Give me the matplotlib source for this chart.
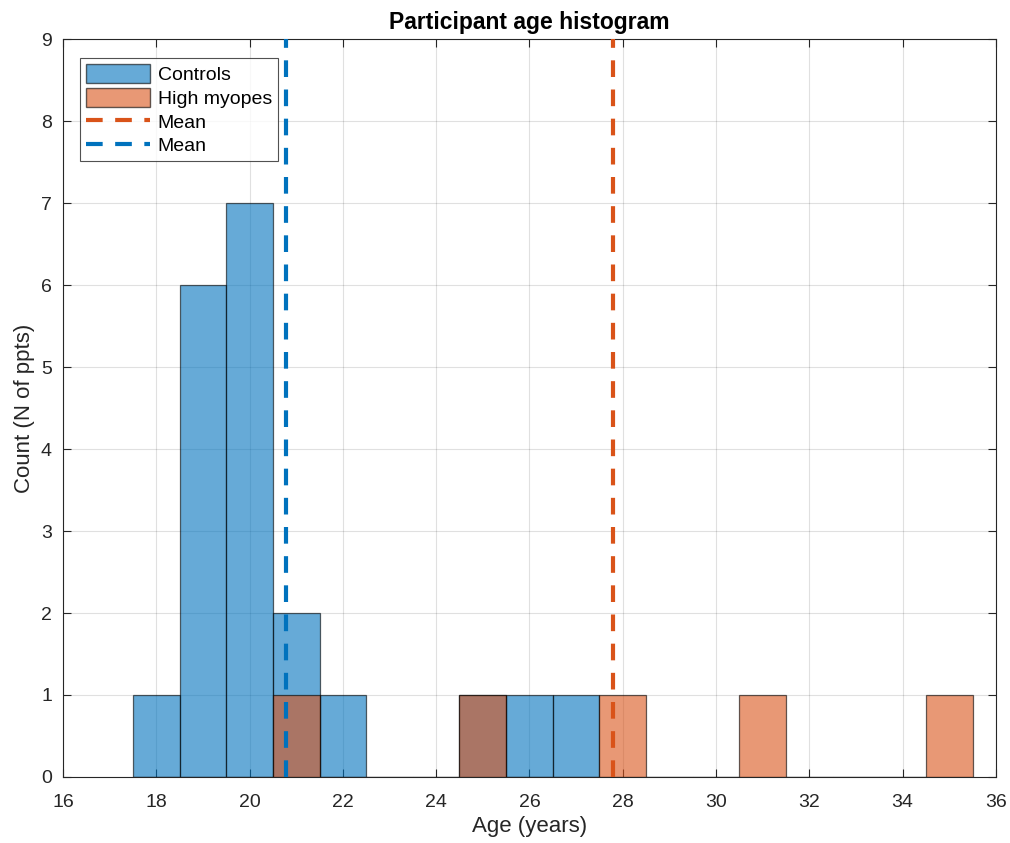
import numpy as np
import matplotlib
matplotlib.use('Agg')
import matplotlib.pyplot as plt
from matplotlib.patches import Patch
from matplotlib.lines import Line2D

plt.rcParams['font.family'] = ['Liberation Sans', 'DejaVu Sans']

# ages of participants (years), one entry per person
controls_age = [18, 19, 19, 19, 19, 19, 19, 20, 20, 20, 20, 20, 20, 20,
                21, 21, 22, 25, 26, 27]
myopes_age = [21, 25, 28, 31, 35]

# group means (years)
controls_mean = 20.78
myopes_mean = 27.79

bin_edges = np.arange(17.5, 36.5, 1)

blue = '#0072BD'
orange = '#D95319'
ink = '#262626'
dash = (0, (4, 3))

fig = plt.figure(figsize=(10.1, 8.43), dpi=100)
ax = fig.add_axes([0.0624, 0.0783, 0.9236, 0.8754])

ax.hist(controls_age, bins=bin_edges, color=blue, alpha=0.6,
        edgecolor='black', linewidth=0.9, zorder=2)
ax.hist(myopes_age, bins=bin_edges, color=orange, alpha=0.6,
        edgecolor='black', linewidth=0.9, zorder=3)

ax.axvline(myopes_mean, color=orange, ls=dash, lw=3, zorder=4)
ax.axvline(controls_mean, color=blue, ls=dash, lw=3, zorder=4)

ax.set_xlim(16, 36)
ax.set_ylim(0, 9)
ax.set_xticks(np.arange(16, 37, 2))
ax.set_yticks(np.arange(0, 10, 1))
ax.grid(True, color='#000000', alpha=0.12, lw=0.8, zorder=0)
ax.set_axisbelow(True)
ax.tick_params(direction='in', top=True, right=True, labelsize=14,
               colors=ink, length=6, width=0.8)
ax.tick_params(axis='x', pad=12)
ax.tick_params(axis='y', pad=8)
for s in ax.spines.values():
    s.set_color(ink)
    s.set_linewidth(0.8)

ax.set_xlabel('Age (years)', fontsize=16, color=ink, labelpad=4)
ax.set_ylabel('Count (N of ppts)', fontsize=16, color=ink, labelpad=4)
ax.set_title('Participant age histogram', fontsize=16.5, fontweight='bold', pad=7)

handles = [
    Patch(facecolor=blue, alpha=0.6, edgecolor='black', label='Controls'),
    Patch(facecolor=orange, alpha=0.6, edgecolor='black', label='High myopes'),
    Line2D([], [], color=orange, ls=dash, lw=3, label='Mean'),
    Line2D([], [], color=blue, ls=dash, lw=3, label='Mean'),
]
leg = ax.legend(handles=handles, loc='upper left', bbox_to_anchor=(0.018, 0.974),
                fontsize=14, frameon=True, fancybox=False, edgecolor=ink,
                borderpad=0.3, labelspacing=0.2, handlelength=3.3,
                handleheight=1.1, handletextpad=0.4, borderaxespad=0)
leg.get_frame().set_linewidth(0.8)

fig.savefig('out.png', dpi=100)
